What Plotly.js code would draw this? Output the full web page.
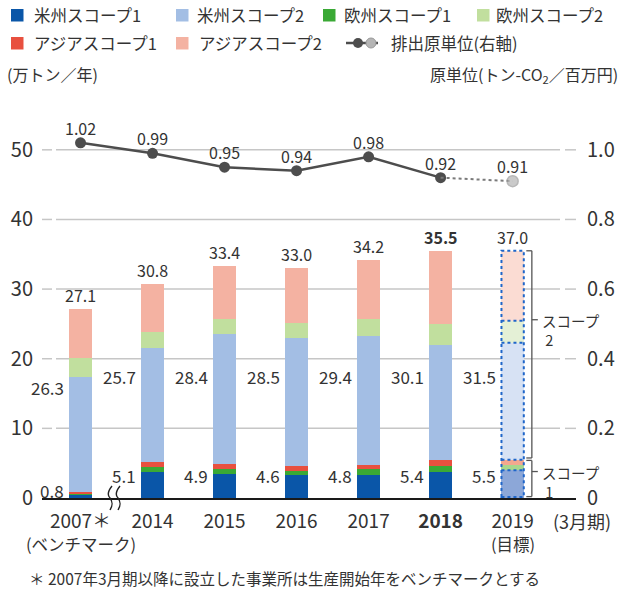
<!DOCTYPE html>
<html>
<head>
<meta charset="utf-8">
<script src="https://cdn.plot.ly/plotly-3.0.1.min.js"></script>
<style>html,body{margin:0;padding:0;background:#fff;}#chart{width:623px;height:590px;}</style>
</head>
<body>
<div id="chart"></div>
<script>
// ---- data ----
const categories = ['2007', '2014', '2015', '2016', '2017', '2018', '2019'];
const tickLabels = ['2007＊', '2014', '2015', '2016', '2017', '<b>2018</b>', '2019'];
const subLabels = ['(ベンチマーク)', '', '', '', '', '', '(目標)'];
const americaScope1 = [0.45, 3.7, 3.4, 3.25, 3.25, 3.8, 4.0];
const europeScope1 = [0.15, 0.7, 0.75, 0.65, 0.85, 0.85, 0.7];
const asiaScope1 = [0.2, 0.7, 0.75, 0.7, 0.7, 0.75, 0.8];
const americaScope2 = [16.6, 16.5, 18.7, 18.4, 18.5, 16.55, 16.8];
const europeScope2 = [2.7, 2.3, 2.05, 2.2, 2.35, 3.1, 3.15];
const asiaScope2 = [7.0, 6.9, 7.65, 7.9, 8.55, 10.45, 10.05];
const scope1Labels = ['0.8', '5.1', '4.9', '4.6', '4.8', '5.4', '5.5'];
const scope2Labels = ['26.3', '25.7', '28.4', '28.5', '29.4', '30.1', '31.5'];
const totalLabels = ['27.1', '30.8', '33.4', '33.0', '34.2', '<b>35.5</b>', '37.0'];
const intensity = [1.02, 0.99, 0.95, 0.94, 0.98, 0.92, 0.91];
const intensityLabels = ['1.02', '0.99', '0.95', '0.94', '0.98', '0.92', '0.91'];
const leftTicks = [0, 10, 20, 30, 40, 50];
const rightTicks = [0, 0.2, 0.4, 0.6, 0.8, 1.0];
const rightTickText = ['0', '0.2', '0.4', '0.6', '0.8', '1.0'];
const seriesNames = ['米州スコープ1', '欧州スコープ1', 'アジアスコープ1', '米州スコープ2', '欧州スコープ2', 'アジアスコープ2'];
const bracketLabels = ['スコープ<br>&nbsp;2', 'スコープ<br>&nbsp;1'];
const lineName = '排出原単位(右軸)';

// ---- styles ----
const FONT = '"Noto Sans CJK JP", "Noto Sans", sans-serif';
const TXT = '#333333';
const baseColors = ['#0a56a8', '#3aa935', '#e8503f', '#a3bee4', '#c1df9e', '#f4b2a2'];
const paleColors = ['#8ca7d8', '#a8d78d', '#f3a88f', '#d7e2f4', '#e4f0d6', '#fbdcd3'];
const W = 623, H = 590, ML = 42, MR = 47, MT = 115, MB = 92;
const PW = W - ML - MR, PH = H - MT - MB;
const YMAX = 55, Y2MAX = 1.1;
const XR = [-0.535, 6.88];
const BARW = 0.31;
const px2x = x => (x - ML) / PW;
const px2y = y => (H - MB - y) / PH;

const stacks = [americaScope1, europeScope1, asiaScope1, americaScope2, europeScope2, asiaScope2];
const last = categories.length - 1;

const traces = stacks.map((vals, i) => ({
  type: 'bar', name: seriesNames[i], x: categories, y: vals,
  width: BARW, showlegend: false, hoverinfo: 'skip',
  marker: { color: categories.map((c, k) => k === last ? paleColors[i] : baseColors[i]), line: { width: 0 } }
}));

traces.push({
  type: 'scatter', mode: 'lines+markers', x: categories.slice(0, last), y: intensity.slice(0, last),
  yaxis: 'y2', showlegend: false, hoverinfo: 'skip',
  line: { color: '#4d4d4d', width: 2.5 }, marker: { color: '#4d4d4d', size: 11 }
});
traces.push({
  type: 'scatter', mode: 'lines+markers', x: categories.slice(last - 1), y: intensity.slice(last - 1),
  yaxis: 'y2', showlegend: false, hoverinfo: 'skip',
  line: { color: '#7a7a7a', width: 2, dash: 'dot' },
  marker: { color: ['rgba(0,0,0,0)', '#b5b5b5'], size: [0, 11], line: { color: ['rgba(0,0,0,0)', '#999999'], width: 1.5 } }
});

const shapes = [];
const annotations = [];

// gridlines with dash ticks
leftTicks.filter(v => v > 0).forEach(v => {
  const segs = [[42, 52], [56, 560], [565, 576]];
  segs.forEach(s => shapes.push({ type: 'line', xref: 'paper', yref: 'y', x0: px2x(s[0]), x1: px2x(s[1]), y0: v, y1: v,
    line: { color: '#c6c6c6', width: 1.5 }, layer: 'below' }));
});

// totals and labels per category (x given as category index)
categories.forEach((c, k) => {
  const s1 = americaScope1[k] + europeScope1[k] + asiaScope1[k];
  const tot = s1 + americaScope2[k] + europeScope2[k] + asiaScope2[k];
  annotations.push({ x: k, y: tot, xref: 'x', yref: 'y', text: totalLabels[k], showarrow: false,
    xanchor: 'center', yanchor: 'bottom', yshift: 0, font: { family: FONT, size: 16, color: TXT } });
  annotations.push({ x: k, y: k === 0 ? 15.9 : 17.4, xref: 'x', yref: 'y', text: scope2Labels[k], showarrow: false,
    xanchor: 'right', yanchor: 'middle', xshift: -15, font: { family: FONT, size: 17, color: TXT } });
  annotations.push({ x: k, y: k === 0 ? 1.05 : 3.3, xref: 'x', yref: 'y', text: scope1Labels[k], showarrow: false,
    xanchor: 'right', yanchor: 'middle', xshift: -15, font: { family: FONT, size: 17, color: TXT } });
  annotations.push({ x: k, y: intensity[k], xref: 'x', yref: 'y2', text: intensityLabels[k], showarrow: false,
    xanchor: 'center', yanchor: 'middle', yshift: 15, font: { family: FONT, size: 16, color: TXT } });
  if (subLabels[k]) {
    annotations.push({ x: k, y: px2y(544), xref: 'x', yref: 'paper', text: subLabels[k], showarrow: false,
      xanchor: 'center', yanchor: 'middle', font: { family: FONT, size: 16.5, color: TXT } });
  }
});

// 2019 target bar: dotted outlines and bracket
(function () {
  const k = last;
  const cum = [0];
  stacks.forEach(s => cum.push(cum[cum.length - 1] + s[k]));
  const x0 = k - BARW / 2, x1 = k + BARW / 2;
  const dot = { color: '#1f66c9', width: 2, dash: 'dot' };
  shapes.push({ type: 'rect', xref: 'x', yref: 'y', x0: x0, x1: x1, y0: 0.15, y1: cum[6], line: dot, layer: 'above' });
  [1, 3, 4, 5].forEach(j => shapes.push({ type: 'line', xref: 'x', yref: 'y', x0: x0, x1: x1, y0: cum[j], y1: cum[j], line: dot, layer: 'above' }));
  const bx = 6.267, bl = 6.19, bt = 6.35;
  const br = { color: '#555555', width: 1.3 };
  const s2lo = cum[3] + 0.25, s1hi = cum[3] - 0.1, s1lo = 0.2;
  shapes.push({ type: 'line', xref: 'x', yref: 'y', x0: bx, x1: bx, y0: s2lo, y1: cum[6], line: br });
  shapes.push({ type: 'line', xref: 'x', yref: 'y', x0: bl, x1: bx, y0: cum[6], y1: cum[6], line: br });
  shapes.push({ type: 'line', xref: 'x', yref: 'y', x0: bl, x1: bx, y0: s2lo, y1: s2lo, line: br });
  shapes.push({ type: 'line', xref: 'x', yref: 'y', x0: bx, x1: bx, y0: s1lo, y1: s1hi, line: br });
  shapes.push({ type: 'line', xref: 'x', yref: 'y', x0: bl, x1: bx, y0: s1hi, y1: s1hi, line: br });
  shapes.push({ type: 'line', xref: 'x', yref: 'y', x0: bl, x1: bx, y0: s1lo, y1: s1lo, line: br });
  const l2 = 25.6, l1 = 3.8;
  shapes.push({ type: 'line', xref: 'x', yref: 'y', x0: bx, x1: bt, y0: l2, y1: l2, line: br });
  shapes.push({ type: 'line', xref: 'x', yref: 'y', x0: bx, x1: bt, y0: l1, y1: l1, line: br });
  const lf = { family: FONT, size: 14.5, color: TXT };
  [[l2, bracketLabels[0]], [l1, bracketLabels[1]]].forEach(p => {
    annotations.push({ xref: 'paper', yref: 'y', x: px2x(540), y: p[0], yshift: 12, text: p[1], align: 'left',
      xanchor: 'left', yanchor: 'top', showarrow: false, font: lf });
  });
})();

// axis break symbol
function pth(pts) {
  return 'M ' + px2x(pts[0][0]) + ',' + px2y(pts[0][1]) + ' C ' +
    pts.slice(1, 4).map(p => px2x(p[0]) + ',' + px2y(p[1])).join(' ') + ' C ' +
    pts.slice(4).map(p => px2x(p[0]) + ',' + px2y(p[1])).join(' ');
}
[0, 8].forEach(d => {
  shapes.push({ type: 'path', xref: 'paper', yref: 'paper',
    path: pth([[112 + d, 486], [108 + d, 491], [107 + d, 495], [110 + d, 498], [113 + d, 502], [113 + d, 505], [110 + d, 510]]),
    line: { color: '#222', width: 1.4 } });
});

// custom legend
const legFont = { family: FONT, size: 16.5, color: TXT };
const legendItems = [
  { i: 0, sx: 11, tx: 32, y: 15 }, { i: 3, sx: 176, tx: 195, y: 15 },
  { i: 1, sx: 323, tx: 342, y: 15 }, { i: 4, sx: 477, tx: 494, y: 15 },
  { i: 2, sx: 11, tx: 32, y: 43 }, { i: 5, sx: 176, tx: 197, y: 43 }
];
legendItems.forEach(it => {
  shapes.push({ type: 'rect', xref: 'paper', yref: 'paper', x0: px2x(it.sx), x1: px2x(it.sx + 12.5),
    y0: px2y(it.y + 6.5), y1: px2y(it.y - 6), line: { width: 0 }, fillcolor: baseColors[it.i] });
  annotations.push({ xref: 'paper', yref: 'paper', x: px2x(it.tx), y: px2y(it.y), text: seriesNames[it.i],
    xanchor: 'left', yanchor: 'middle', showarrow: false, font: legFont });
});
shapes.push({ type: 'line', xref: 'paper', yref: 'paper', x0: px2x(346), x1: px2x(378), y0: px2y(43), y1: px2y(43), line: { color: '#4d4d4d', width: 2.5 } });
shapes.push({ type: 'circle', xref: 'paper', yref: 'paper', x0: px2x(353), x1: px2x(363), y0: px2y(48), y1: px2y(38), line: { width: 0 }, fillcolor: '#4d4d4d' });
shapes.push({ type: 'circle', xref: 'paper', yref: 'paper', x0: px2x(366), x1: px2x(376), y0: px2y(48), y1: px2y(38), line: { color: '#999', width: 1 }, fillcolor: '#b5b5b5' });
annotations.push({ xref: 'paper', yref: 'paper', x: px2x(389), y: px2y(43), text: lineName,
  xanchor: 'left', yanchor: 'middle', showarrow: false, font: legFont });

// axis titles, period label, footnote
annotations.push({ xref: 'paper', yref: 'paper', x: px2x(5), y: px2y(74), text: '(万トン／年)', xanchor: 'left', yanchor: 'middle', showarrow: false, font: { family: FONT, size: 16, color: TXT } });
annotations.push({ xref: 'paper', yref: 'paper', x: px2x(620), y: px2y(74), text: '原単位(トン-CO<sub>2</sub>／百万円)', xanchor: 'right', yanchor: 'middle', showarrow: false, font: { family: FONT, size: 16, color: TXT } });
annotations.push({ xref: 'paper', yref: 'paper', x: px2x(551), y: px2y(521), text: '(3月期)', xanchor: 'left', yanchor: 'middle', showarrow: false, font: { family: FONT, size: 18, color: TXT } });
annotations.push({ xref: 'paper', yref: 'paper', x: px2x(27), y: px2y(578), text: '＊ 2007年3月期以降に設立した事業所は生産開始年をベンチマークとする', xanchor: 'left', yanchor: 'middle', showarrow: false, font: { family: FONT, size: 15.5, color: TXT } });

const layout = {
  width: W, height: H, margin: { l: ML, r: MR, t: MT, b: MB, pad: 0 },
  paper_bgcolor: '#fff', plot_bgcolor: '#fff', barmode: 'stack', showlegend: false,
  font: { family: FONT, color: TXT },
  xaxis: { type: 'category', range: XR, tickvals: categories, ticktext: tickLabels, ticks: '', showgrid: false, zeroline: false,
    showline: true, linecolor: '#1a1a1a', linewidth: 2, tickfont: { family: FONT, size: 19, color: TXT }, ticklabelstandoff: 5, fixedrange: true },
  yaxis: { range: [0, YMAX], tickvals: leftTicks, ticks: '', showgrid: false, zeroline: false, showline: false,
    tickfont: { family: FONT, size: 20, color: TXT }, ticklabelstandoff: 8, fixedrange: true },
  yaxis2: { range: [0, Y2MAX], overlaying: 'y', side: 'right', tickvals: rightTicks, ticktext: rightTickText, ticks: '', showgrid: false,
    zeroline: false, showline: false, tickfont: { family: FONT, size: 20, color: TXT }, ticklabelstandoff: 10, fixedrange: true },
  shapes: shapes, annotations: annotations
};
Plotly.newPlot('chart', traces, layout, { displayModeBar: false, staticPlot: true });
</script>
</body>
</html>
